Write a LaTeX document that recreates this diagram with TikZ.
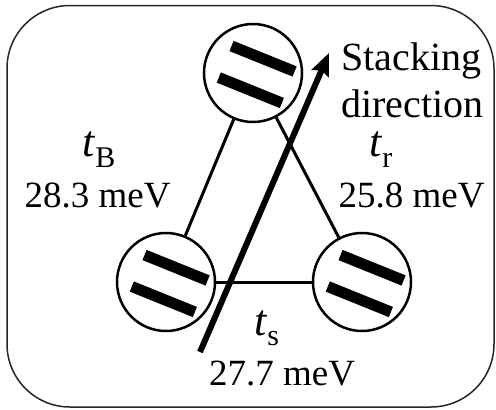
\documentclass[tikz,border=0pt]{standalone}
\usepackage{fontspec}
\setmainfont{Liberation Serif}
\newfontfamily\timesfont{Liberation Serif}
\usetikzlibrary{arrows.meta}
\tikzset{
  frame/.style={draw=black!85, line width=1.5pt, rounded corners=63pt},
  mol/.style={circle, draw, line width=2.5pt, minimum size=98pt, inner sep=0pt},
  bar/.style={line width=11pt, line cap=butt},
  conn/.style={line width=3pt},
  arr/.style={line width=6pt, -{Stealth[length=22pt, width=18pt, inset=3pt]}},
  lbl/.style={inner sep=0pt, font=\timesfont\fontsize{37}{42}\selectfont},
  big/.style={inner sep=0pt, font=\timesfont\fontsize{40}{46}\selectfont, align=left},
}
\newcommand{\hop}[2]{\fontsize{44}{44}\selectfont\textit{t}\raisebox{#2}{\fontsize{30}{30}\selectfont #1}}
\begin{document}
\timesfont
\begin{tikzpicture}[x=1pt, y=-1pt]
\useasboundingbox (0,0) rectangle (496,410);
\draw[frame] (7,5.5) rectangle (494,407);
% molecules
\node[mol] (T) at (253,73) {};
\node[mol] (L) at (166,282) {};
\node[mol] (R) at (362,282) {};
\foreach \c in {T,L,R}{
  \begin{scope}[shift={(\c.center)}, rotate=-22]
    \draw[bar] (-30,-17) -- (38,-17);
    \draw[bar] (-30,17) -- (38,17);
  \end{scope}
}
% connectors
\draw[conn] (T) -- (L);
\draw[conn] (T) -- (R);
\draw[conn] (L) -- (R);
% stacking arrow
\coordinate (atail) at (200,352);
\coordinate (atip) at (329,53);
\draw[arr] (atail) -- (atip);
% labels
\node[big, anchor=base west] (st1) at (341,70) {Stacking};
\node[big, anchor=base west] (st2) at (341,117) {direction};
\node[lbl, anchor=base west] (tB) at (82,156) {\hop{B}{-11pt}};
\node[lbl, anchor=base] (eB) at (97.5,207) {28.3 meV};
\node[lbl, anchor=base west] (tr) at (369,156) {\hop{r}{-11pt}};
\node[lbl, anchor=base] (er) at (411.5,207) {25.8 meV};
\node[lbl, anchor=base west] (ts) at (254,335) {\hop{s}{-10pt}};
\node[lbl, anchor=base] (es) at (282,385) {27.7 meV};
\end{tikzpicture}
\end{document}
